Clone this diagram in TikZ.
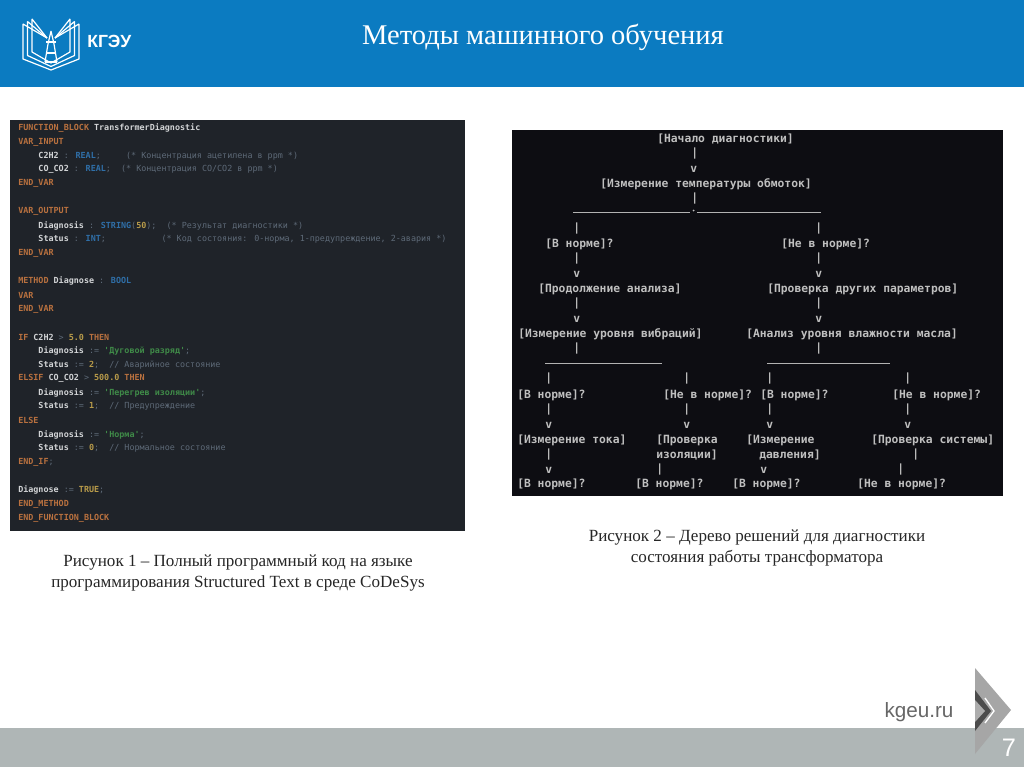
\documentclass[tikz,border=0pt]{standalone}
\usepackage{fontspec}
\setmainfont{Liberation Serif}
\newfontfamily\codefont{DejaVu Sans Mono}
\newfontfamily\logofont{Liberation Sans}
\usetikzlibrary{positioning}

\definecolor{headblue}{HTML}{0B7BC1}
\definecolor{bandgray}{HTML}{AFB6B6}
\definecolor{codebg}{HTML}{1F2329}
\definecolor{treebg}{HTML}{0D0D12}
\definecolor{kwcol}{HTML}{B9713F}
\definecolor{tycol}{HTML}{2F6FA8}
\definecolor{cmcol}{HTML}{5E6A78}
\definecolor{stcol}{HTML}{3F8A48}
\definecolor{nucol}{HTML}{B89B4A}
\definecolor{nmcol}{HTML}{D2D4D6}

\newcommand{\kw}[1]{\textcolor{kwcol}{#1}}
\newcommand{\ty}[1]{\textcolor{tycol}{#1}}
\newcommand{\cm}[1]{\textcolor{cmcol}{\mdseries #1}}
\newcommand{\stv}[1]{\textcolor{stcol}{#1}}
\newcommand{\numv}[1]{\textcolor{nucol}{#1}}

\tikzset{
  codeline/.style={anchor=west, inner sep=0pt, text=nmcol, font=\codefont\bfseries\fontsize{6.3}{7}\selectfont},
  treeline/.style={anchor=west, inner sep=0pt, text=black!25, font=\codefont\bfseries\fontsize{8.5}{10}\selectfont},
  treebar/.style={black!30, line width=0.55pt},
  caption/.style={inner sep=0pt, text=black!85, font=\fontsize{12.8}{15}\selectfont},
  bookline/.style={white, line width=0.9pt, line join=bevel}
}

\begin{document}
\begin{tikzpicture}[x=0.75pt, y=-0.75pt]
    \useasboundingbox (0,0) rectangle (1024,767);

    % Header and bottom band
    \fill[headblue] (0,0) rectangle (1024,87);
    \fill[bandgray] (0,728) rectangle (1024,767);
    \node[text=white, inner sep=0pt, font=\fontsize{21.4}{25}\selectfont] (title) at (543,37) {Методы машинного обучения};

    % Logo
    \foreach \x/\t/\b in {23/24/59, 27.5/21.5/55.5, 32/19/52} {
      \draw[bookline] (47,38) -- (\x,\t) -- (\x,\b) -- (51,70-59+\b);
      \draw[bookline] (55,38) -- (102-\x,\t) -- (102-\x,\b) -- (51,70-59+\b);
    }
    \draw[bookline] (45,62) -- (48,44) -- (51,31) -- (54,44) -- (57,62);
    \draw[bookline] (45,62) -- (57,62);
    \draw[bookline] (46,42) -- (56,42);
    \draw[bookline] (47,53) -- (55,53);
    \node[text=white, inner sep=0pt, anchor=west, font=\logofont\bfseries\fontsize{13.2}{15}\selectfont] (logo) at (87,41) {КГЭУ};

    % Chevron and page number
    \fill[black!35] (975,668) -- (1011,710) -- (975,754) -- cycle;
    \fill[black!70] (975,690) -- (991,711) -- (975,731) -- cycle;
    \fill[black!32] (975,700) -- (985,711) -- (975,722) -- cycle;
    \draw[white, line width=1pt] (985,698) -- (994,711) -- (985,723);
    \node[text=black!60, inner sep=0pt, font=\logofont\fontsize{15.5}{18}\selectfont] (site) at (919,712) {kgeu.ru};
    \node[text=white, inner sep=0pt, font=\logofont\fontsize{19}{22}\selectfont] (pagenum) at (1009,748) {7};

    % Code panel
    \fill[codebg] (10,120) rectangle (465,531);
    \foreach \i/\txt in {
      0/{\kw{FUNCTION\_BLOCK} TransformerDiagnostic},
      1/{\kw{VAR\_INPUT}},
      2/{~~~~C2H2 \cm{:} \ty{REAL}\cm{;}~~~~~\cm{(* Концентрация ацетилена в ppm *)}},
      3/{~~~~CO\_CO2 \cm{:} \ty{REAL}\cm{;}~~\cm{(* Концентрация CO/CO2 в ppm *)}},
      4/{\kw{END\_VAR}},
      6/{\kw{VAR\_OUTPUT}},
      7/{~~~~Diagnosis \cm{:} \ty{STRING}\cm{(}\numv{50}\cm{);}~~\cm{(* Результат диагностики *)}},
      8/{~~~~Status \cm{:} \ty{INT}\cm{;}~~~~~~~~~~~\cm{(* Код состояния: 0-норма, 1-предупреждение, 2-авария *)}},
      9/{\kw{END\_VAR}},
      11/{\kw{METHOD} Diagnose \cm{:} \ty{BOOL}},
      12/{\kw{VAR}},
      13/{\kw{END\_VAR}},
      15/{\kw{IF} C2H2 \cm{>} \numv{5.0} \kw{THEN}},
      16/{~~~~Diagnosis \cm{:=} \stv{'Дуговой разряд'}\cm{;}},
      17/{~~~~Status \cm{:=} \numv{2}\cm{;}~~\cm{// Аварийное состояние}},
      18/{\kw{ELSIF} CO\_CO2 \cm{>} \numv{500.0} \kw{THEN}},
      19/{~~~~Diagnosis \cm{:=} \stv{'Перегрев изоляции'}\cm{;}},
      20/{~~~~Status \cm{:=} \numv{1}\cm{;}~~\cm{// Предупреждение}},
      21/{\kw{ELSE}},
      22/{~~~~Diagnosis \cm{:=} \stv{'Норма'}\cm{;}},
      23/{~~~~Status \cm{:=} \numv{0}\cm{;}~~\cm{// Нормальное состояние}},
      24/{\kw{END\_IF}\cm{;}},
      26/{Diagnose \cm{:=} \numv{TRUE}\cm{;}},
      27/{\kw{END\_METHOD}},
      28/{\kw{END\_FUNCTION\_BLOCK}}} {
      \node[codeline] (code\i) at (18,128+13.93*\i) {\txt};
    }
    \node[caption] (capa) at (238,562) {Рисунок 1 – Полный программный код на языке};
    \node[caption] (capb) at (238,583) {программирования Structured Text в среде CoDeSys};

    % Tree panel
    \fill[treebg] (512,130) rectangle (1003,496);
    \foreach \x/\y/\txt [count=\i] in {
      657/139/{[Начало диагностики]},
      691/154/{|}, 690/169/{v},
      600/184/{[Измерение температуры обмоток]},
      691/199/{|},
      573/229/{|}, 815/229/{|},
      545/244/{[В норме]?}, 781/244/{[Не в норме]?},
      573/259/{|}, 815/259/{|},
      573/274/{v}, 815/274/{v},
      538/289/{[Продолжение анализа]}, 767/289/{[Проверка других параметров]},
      573/304/{|}, 815/304/{|},
      573/319/{v}, 815/319/{v},
      518/334/{[Измерение уровня вибраций]}, 746/334/{[Анализ уровня влажности масла]},
      573/349/{|}, 815/349/{|},
      545/379/{|}, 683/379/{|}, 766/379/{|}, 904/379/{|},
      517/395/{[В норме]?}, 663/395/{[Не в норме]?}, 760/395/{[В норме]?}, 892/395/{[Не в норме]?},
      545/410/{|}, 683/410/{|}, 766/410/{|}, 904/410/{|},
      545/425/{v}, 683/425/{v}, 766/425/{v}, 904/425/{v},
      517/440/{[Измерение тока]}, 656/440/{[Проверка}, 746/440/{[Измерение}, 871/440/{[Проверка системы]},
      545/455/{|}, 656/455/{изоляции]}, 759/455/{давления]}, 912/455/{|},
      545/470/{v}, 656/470/{|}, 760/470/{v}, 897/470/{|},
      517/484/{[В норме]?}, 635/484/{[В норме]?}, 732/484/{[В норме]?}, 857/484/{[Не в норме]?}} {
      \node[treeline] (tree\i) at (\x,\y) {\txt};
    }

    % Horizontal bars of the tree
    \coordinate (bara) at (573,212);
    \coordinate (barb) at (690,212);
    \coordinate (barc) at (697,212);
    \coordinate (bard) at (821,212);
    \coordinate (bare) at (545,363);
    \coordinate (barf) at (662,363);
    \coordinate (barg) at (767,363);
    \coordinate (barh) at (890,363);
    \draw[treebar] (bara) -- (barb);
    \draw[treebar] (barc) -- (bard);
    \draw[treebar] (bare) -- (barf);
    \draw[treebar] (barg) -- (barh);
    \fill[black!25] (693.5,210.5) circle (1);

    \node[caption] (capc) at (757,537) {Рисунок 2 – Дерево решений для диагностики};
    \node[caption] (capd) at (757,558) {состояния работы трансформатора};

  \end{tikzpicture}
\end{document}
